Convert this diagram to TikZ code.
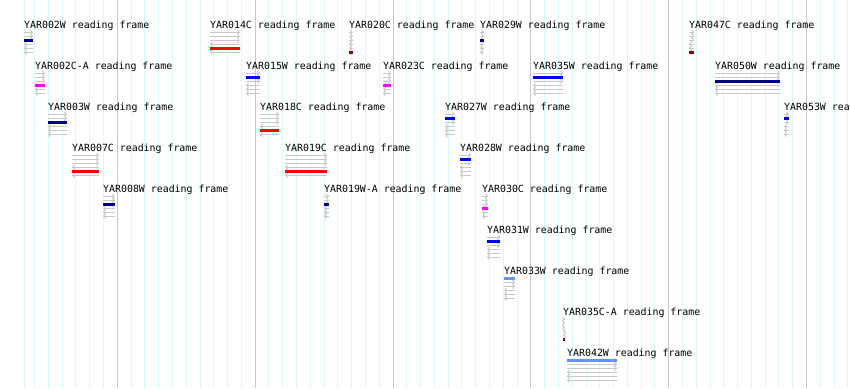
\documentclass[tikz,border=0pt]{standalone}
\usepackage{fontspec}
\setmonofont{DejaVu Sans Mono}
\usetikzlibrary{arrows.meta}
\definecolor{gridminor}{HTML}{D8FAFA}
\definecolor{gridmajor}{HTML}{C8C8C8}
\definecolor{framegray}{HTML}{C8C8C8}
\definecolor{fr0}{HTML}{6495ED}
\definecolor{fr1}{HTML}{0000FF}
\definecolor{fr2}{HTML}{00008B}
\definecolor{fr3}{HTML}{FF00FF}
\definecolor{fr4}{HTML}{FF0000}
\definecolor{fr5}{HTML}{8B0000}
\tikzset{
  lbl/.style={font=\ttfamily\fontsize{9.9}{10}\selectfont, inner sep=0pt, anchor=base west, text=black},
  minorline/.style={draw=gridminor, line width=1pt},
  majorline/.style={draw=gridmajor, line width=1pt},
  frameline/.style={draw=framegray, line width=0.9pt, -{Straight Barb[length=2pt,width=4.5pt]}},
}
\newcommand\orfglyph[6]{%
  \pgfmathsetmacro\orfbl{28+41*(#5-1)}%
  \node[lbl] (#1) at (#3,\orfbl) {#2};%
  \foreach \k in {0,1,2}{\draw[frameline] (#3,{\orfbl+4.3+4*\k}) -- (#4,{\orfbl+4.3+4*\k});}%
  \foreach \k in {3,4,5}{\draw[frameline] (#4,{\orfbl+4.3+4*\k}) -- (#3,{\orfbl+4.3+4*\k});}%
  \fill[fr#6] (#3,{\orfbl+4.3+4*#6-1.6}) rectangle (#4,{\orfbl+4.3+4*#6+1.6});%
}
\begin{document}
\begin{tikzpicture}[x=1pt,y=-1pt]
\useasboundingbox (0,0) rectangle (850,388);
\fill[white] (0,0) rectangle (850,388);
\clip (0,0) rectangle (850,388);
% grid
\draw[minorline] (24.3,0) -- (24.3,388);
\foreach \i in {-6,...,53}{\draw[minorline] ({117.3+13.785*\i},0) -- ({117.3+13.785*\i},388);}
\foreach \i in {0,...,5}{\draw[majorline] ({117.3+137.85*\i},0) -- ({117.3+137.85*\i},388);}
% reading frames
\orfglyph{g01}{YAR002W reading frame}{24}{33}{1}{2}
\orfglyph{g02}{YAR014C reading frame}{210}{240}{1}{4}
\orfglyph{g03}{YAR020C reading frame}{349}{353}{1}{5}
\orfglyph{g04}{YAR029W reading frame}{480}{484}{1}{2}
\orfglyph{g05}{YAR047C reading frame}{689}{694}{1}{5}
\orfglyph{g06}{YAR002C-A reading frame}{35}{45}{2}{3}
\orfglyph{g07}{YAR015W reading frame}{246}{260}{2}{1}
\orfglyph{g08}{YAR023C reading frame}{383}{391}{2}{3}
\orfglyph{g09}{YAR035W reading frame}{533}{563}{2}{1}
\orfglyph{g10}{YAR050W reading frame}{715}{780}{2}{2}
\orfglyph{g11}{YAR003W reading frame}{48}{67}{3}{2}
\orfglyph{g12}{YAR018C reading frame}{260}{279}{3}{4}
\orfglyph{g13}{YAR027W reading frame}{445}{455}{3}{1}
\orfglyph{g14}{YAR053W reading frame}{784}{789}{3}{1}
\orfglyph{g15}{YAR007C reading frame}{72}{99}{4}{4}
\orfglyph{g16}{YAR019C reading frame}{285}{327}{4}{4}
\orfglyph{g17}{YAR028W reading frame}{460}{471}{4}{1}
\orfglyph{g18}{YAR008W reading frame}{103}{115}{5}{2}
\orfglyph{g19}{YAR019W-A reading frame}{324}{329}{5}{2}
\orfglyph{g20}{YAR030C reading frame}{482}{488}{5}{3}
\orfglyph{g21}{YAR031W reading frame}{487}{500}{6}{1}
\orfglyph{g22}{YAR033W reading frame}{504}{515}{7}{0}
\orfglyph{g23}{YAR035C-A reading frame}{563}{565}{8}{5}
\orfglyph{g24}{YAR042W reading frame}{567}{617}{9}{0}
\end{tikzpicture}
\end{document}
